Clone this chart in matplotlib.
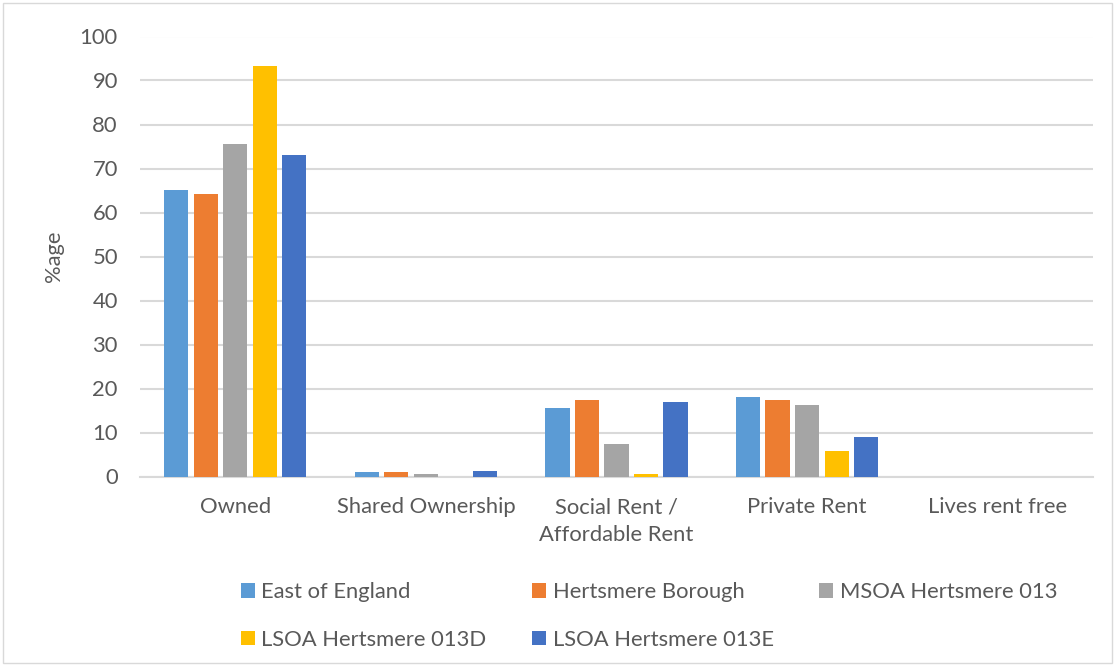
import matplotlib.pyplot as plt
import matplotlib.patches as mpatches
import numpy as np

plt.rcParams['font.family'] = ['Lato', 'DejaVu Sans']

categories = ['Owned', 'Shared Ownership', 'Social Rent /\nAffordable Rent',
              'Private Rent', 'Lives rent free']
series_names = ['East of England', 'Hertsmere Borough', 'MSOA Hertsmere 013',
                'LSOA Hertsmere 013D', 'LSOA Hertsmere 013E']

east_of_england = [65.1, 1.0, 15.6, 18.1, 0.0]
hertsmere_borough = [64.2, 1.0, 17.4, 17.4, 0.0]
msoa_013 = [75.6, 0.5, 7.4, 16.3, 0.0]
lsoa_013d = [93.4, 0.0, 0.5, 5.8, 0.0]
lsoa_013e = [73.1, 1.2, 16.9, 9.0, 0.0]

colors = ['#5b9bd5', '#ed7d31', '#a5a5a5', '#ffc000', '#4472c4']
text_col = '#595959'
fs = 15.8

fig = plt.figure(figsize=(11.15, 6.66), dpi=100)
ax = fig.add_axes([140 / 1115, 1 - 476.5 / 666, 953 / 1115, 440 / 666])

x = np.arange(len(categories))
pitch = 0.155
width = 0.127
all_series = [east_of_england, hertsmere_borough, msoa_013, lsoa_013d, lsoa_013e]
bars = []
for i, (vals, name, c) in enumerate(zip(all_series, series_names, colors)):
    bars.append(ax.bar(x + (i - 2) * pitch, vals, width, color=c, label=name, zorder=3))

ax.set_xlim(-0.5, len(categories) - 0.5)
ax.set_ylim(0, 100)
ax.set_yticks(range(0, 101, 10))
ax.set_xticks(x)
ax.set_xticklabels(categories, fontsize=fs, color=text_col, linespacing=1.45)
ax.tick_params(axis='y', labelsize=fs, labelcolor=text_col, length=0, pad=16)
ax.tick_params(axis='x', length=0, pad=15)
ax.grid(axis='y', color='#d9d9d9', linewidth=1.5, zorder=0)
for s in ['top', 'right', 'left']:
    ax.spines[s].set_visible(False)
ax.spines['bottom'].set_color('#d9d9d9')
ax.spines['bottom'].set_linewidth(1.5)
ax.set_ylabel('%age', fontsize=fs, color=text_col, labelpad=11)

# row-major legend order (matplotlib fills columns first)
order = [0, 3, 1, 4, 2]
fig.legend([bars[i] for i in order], [series_names[i] for i in order],
           loc='center', bbox_to_anchor=(649 / 1115, 1 - 616 / 666), ncol=3,
           frameon=False, fontsize=fs, labelcolor=text_col,
           handlelength=0.63, handleheight=0.63, handletextpad=0.3,
           columnspacing=2.08, labelspacing=1.25)

fig.patches.append(mpatches.Rectangle((3 / 1115, 3 / 666), 1109 / 1115, 660 / 666,
                                      transform=fig.transFigure, fill=False,
                                      edgecolor='#d9d9d9', linewidth=1))

fig.savefig('out.png', dpi=100)
